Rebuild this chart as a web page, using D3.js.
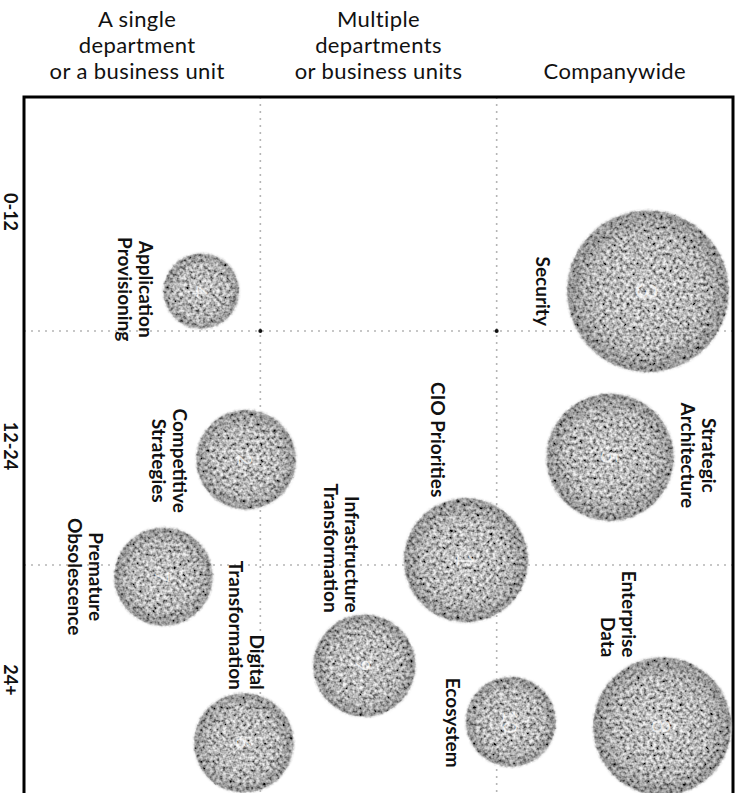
<!DOCTYPE html>
<html>
<head>
<meta charset="utf-8">
<script src="https://cdn.jsdelivr.net/npm/d3@7"></script>
<style>
  html, body { margin: 0; padding: 0; background: #fff; }
  svg { display: block; }
</style>
</head>
<body>
<div id="chart"></div>
<script>
// Scope columns, time-horizon rows and the ten numbered initiatives

const scopes = [
  ["A single", "department", "or a business unit"],
  ["Multiple", "departments", "or business units"],
  ["Companywide"]
];
const horizons = ["0-12", "12-24", "24+"];

const names = [
  "Application Provisioning", "Competitive Strategies", "Premature Obsolescence",
  "Digital Transformation", "Infrastructure Transformation", "CIO Priorities",
  "Ecosystem", "Security", "Strategic Architecture", "Enterprise Data"
];
const numbers = [4, 2, 7, 6, 9, 1, 10, 3, 5, 8];
// position along scope axis (0..3) and horizon axis (0..3)
const scopePos   = [0.75, 0.94, 0.59, 0.93, 1.44, 1.87, 2.06, 2.64, 2.48, 2.70];
const horizonPos = [0.83, 1.55, 2.05, 2.76, 2.43, 1.98, 2.67, 0.83, 1.54, 2.69];
const weights    = [22, 38, 37, 38, 40, 59, 31, 100, 62, 73];

// label layout: line breaks, offset from bubble centre, anchor along the rotated text
const labelLayout = [
  { lines: ["Application", "Provisioning"], dx: -65, dy: -2, anchor: "middle" },
  { lines: ["Competitive", "Strategies"], dx: -76, dy: 1, anchor: "middle" },
  { lines: ["Premature", "Obsolescence"], dx: -77, dy: 0, anchor: "middle" },
  { lines: ["Digital", "Transformation"], dx: 3, dy: -53, anchor: "end" },
  { lines: ["Infrastructure", "Transformation"], dx: -22, dy: -53, anchor: "end" },
  { lines: ["CIO Priorities"], dx: -27, dy: -63, anchor: "end" },
  { lines: ["Ecosystem"], dx: -57, dy: -44, anchor: "start" },
  { lines: ["Security"], dx: -104, dy: 0, anchor: "middle" },
  { lines: ["Strategic", "Architecture"], dx: 89, dy: -2, anchor: "middle" },
  { lines: ["Enterprise", "Data"], dx: -43, dy: -69, anchor: "end" }
];

const width = 739, height = 793;
const font = "Lato, 'Open Sans', sans-serif";

const svg = d3.select("#chart").append("svg")
  .attr("width", width)
  .attr("height", height);

const plot = { left: 24, top: 97, right: 733 };

const x = d3.scaleLinear().domain([0, 3]).range([plot.left, plot.right]);
const y = d3.scaleLinear().domain([0, 3]).range([plot.top, plot.top + 3 * 234]);
const r = d3.scaleSqrt().domain([0, 100]).range([0, 81]);

// grainy photocopy texture for bubbles
const defs = svg.append("defs");
const grad = defs.append("radialGradient").attr("id", "shade");
grad.append("stop").attr("offset", "0%").attr("stop-color", "#ffffff");
grad.append("stop").attr("offset", "70%").attr("stop-color", "#eeeeee");
grad.append("stop").attr("offset", "100%").attr("stop-color", "#bdbdbd");

const grain = defs.append("filter").attr("id", "grain")
  .attr("x", "-10%").attr("y", "-10%").attr("width", "120%").attr("height", "120%");
grain.append("feTurbulence")
  .attr("type", "fractalNoise").attr("baseFrequency", 0.3)
  .attr("numOctaves", 2).attr("seed", 7).attr("result", "noise");
grain.append("feColorMatrix").attr("in", "noise").attr("type", "matrix")
  .attr("values", "1.7 0 0 0 -0.32  1.7 0 0 0 -0.32  1.7 0 0 0 -0.32  0 0 0 0 1")
  .attr("result", "gray");
grain.append("feBlend").attr("in", "gray").attr("in2", "SourceGraphic")
  .attr("mode", "multiply").attr("result", "tex");
grain.append("feGaussianBlur").attr("in", "SourceAlpha").attr("stdDeviation", 1.3).attr("result", "edge");
grain.append("feComposite").attr("in", "tex").attr("in2", "edge").attr("operator", "in");

// column headers
scopes.forEach((lines, i) => {
  const t = svg.append("text")
    .attr("text-anchor", "middle")
    .attr("font-family", font)
    .attr("font-size", 22)
    .attr("letter-spacing", 0.4)
    .attr("fill", "#111");
  const n = lines.length;
  lines.forEach((l, j) => {
    t.append("tspan")
      .attr("x", x(i + 0.5) - (i === 0 ? 5 : 0))
      .attr("y", 79 - (n - 1 - j) * 26)
      .text(l);
  });
});

// dotted grid
const grid = svg.append("g")
  .attr("stroke", "#b5b5b5")
  .attr("stroke-width", 1.6)
  .attr("stroke-dasharray", "2,5");
[1, 2].forEach(k => {
  grid.append("line")
    .attr("x1", x(k)).attr("x2", x(k))
    .attr("y1", plot.top).attr("y2", height);
  grid.append("line")
    .attr("x1", plot.left).attr("x2", plot.right)
    .attr("y1", y(k)).attr("y2", y(k));
});
[1, 2].forEach(k => {
  svg.append("circle").attr("cx", x(k)).attr("cy", y(1)).attr("r", 2).attr("fill", "#111");
});

// frame (open at bottom)
svg.append("path")
  .attr("d", `M${plot.left},${height}V${plot.top}H${plot.right}V${height}`)
  .attr("fill", "none")
  .attr("stroke", "#000")
  .attr("stroke-width", 3);

// row labels
horizons.forEach((h, i) => {
  svg.append("text")
    .attr("transform", `translate(11,${y(i + 0.5) - 2}) rotate(90)`)
    .attr("text-anchor", "middle")
    .attr("dominant-baseline", "central")
    .attr("font-family", font)
    .attr("font-weight", 700)
    .attr("font-size", 18)
    .attr("fill", "#111")
    .text(h);
});

const data = names.map((n, i) => ({
  name: n, num: numbers[i],
  cx: x(scopePos[i]), cy: y(horizonPos[i]), rr: r(weights[i]),
  lab: labelLayout[i]
}));

// bubbles
svg.append("g").selectAll("circle")
  .data(data)
  .enter().append("circle")
  .attr("cx", d => d.cx)
  .attr("cy", d => d.cy)
  .attr("r", d => d.rr)
  .attr("fill", "url(#shade)")
  .attr("filter", "url(#grain)");

// faint numbers inside bubbles
svg.append("g").selectAll("text")
  .data(data)
  .enter().append("text")
  .attr("transform", d => `translate(${d.cx},${d.cy}) rotate(90)`)
  .attr("text-anchor", "middle")
  .attr("dominant-baseline", "central")
  .attr("font-family", font)
  .attr("font-size", d => Math.max(20, d.rr * 0.36))
  .attr("fill", "#fff")
  .attr("fill-opacity", 0.7)
  .text(d => d.num);

// initiative labels, rotated
const LH = 21;
svg.append("g").selectAll("text")
  .data(data)
  .enter().append("text")
  .attr("transform", d => `translate(${d.cx + d.lab.dx},${d.cy + d.lab.dy}) rotate(90)`)
  .attr("text-anchor", d => d.lab.anchor)
  .attr("font-family", font)
  .attr("font-weight", 700)
  .attr("font-size", 19)
  .attr("fill", "#111")
  .each(function (d) {
    const n = d.lab.lines.length;
    d3.select(this).selectAll("tspan")
      .data(d.lab.lines)
      .enter().append("tspan")
      .attr("x", 0)
      .attr("y", (l, j) => (j - (n - 1) / 2) * LH)
      .attr("dominant-baseline", "central")
      .text(l => l);
  });
</script>
</body>
</html>
